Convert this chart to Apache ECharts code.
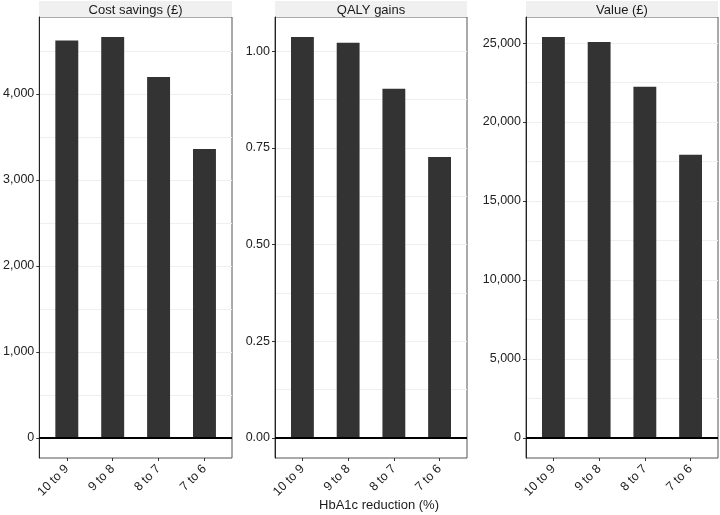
<!DOCTYPE html>
<html>
<head>
<meta charset="utf-8">
<script src="https://cdn.jsdelivr.net/npm/echarts@6/dist/echarts.min.js"></script>
<style>
  html, body { margin: 0; padding: 0; background: #fff; }
  #chart { width: 720px; height: 515px; }
</style>
</head>
<body>
<div id="chart"></div>
<script>
// values (HbA1c reduction bands)
const categories = ["10 to 9", "9 to 8", "8 to 7", "7 to 6"];
const costSavings = [4620, 4660, 4195, 3360];
const qalyGains = [1.037, 1.022, 0.903, 0.727];
const valueGbp = [25380, 25060, 22230, 17930];

const costTicks = [0, 1000, 2000, 3000, 4000];
const qalyTicks = [0, 0.25, 0.5, 0.75, 1.0];
const valueTicks = [0, 5000, 10000, 15000, 20000, 25000];

const panelTitles = ["Cost savings (£)", "QALY gains", "Value (£)"];
const xTitle = "HbA1c reduction (%)";

const FONT = "Liberation Sans, Arial, sans-serif";
const thousands = (v) => v.toLocaleString("en-US");

const panels = [
  { title: panelTitles[0], values: costSavings, ticks: costTicks, fmt: thousands },
  { title: panelTitles[1], values: qalyGains, ticks: qalyTicks, fmt: (v) => v.toFixed(2) },
  { title: panelTitles[2], values: valueGbp, ticks: valueTicks, fmt: thousands },
];

// panel boxes in pixels: [left, right]
const boxes = [[39, 232], [275, 467], [526, 718]];
const TOP = 17, BOTTOM = 458;

// faint grid lines at major ticks and halfway between them
function gridValues(ticks) {
  const step = ticks[1] - ticks[0];
  const out = [];
  ticks.forEach((t) => { out.push(t, t + step / 2); });
  return out;
}

const grid = [], xAxis = [], yAxis = [], series = [], graphic = [];

panels.forEach((p, i) => {
  const [l, r] = boxes[i];
  const maxV = Math.max(...p.values);
  const pad = maxV * 0.05;
  const yMin = -pad, yMax = maxV + pad;

  grid.push({
    left: l, right: 720 - r, top: TOP, bottom: 515 - BOTTOM,
    show: true, borderColor: "#555", borderWidth: 1, backgroundColor: "transparent",
  });

  xAxis.push({
    type: "value", gridIndex: i, min: 0.4, max: categories.length + 0.6,
    position: "bottom",
    axisLine: { show: false, onZero: false },
    splitLine: { show: false },
    axisTick: { show: true, length: 3, lineStyle: { color: "#333" },
      customValues: categories.map((c, k) => k + 1) },
    axisLabel: {
      customValues: categories.map((c, k) => k + 1),
      formatter: (v) => categories[Math.round(v) - 1] || "",
      rotate: 45, margin: 9, fontSize: 12.5, color: "#222", fontFamily: FONT,
    },
  });

  // labelled axis
  yAxis.push({
    type: "value", gridIndex: i, min: yMin, max: yMax, position: "left",
    axisLine: { show: true, onZero: false, lineStyle: { color: "#222", width: 1 } },
    splitLine: { show: false },
    axisTick: { show: true, length: 3, lineStyle: { color: "#333" }, customValues: p.ticks },
    axisLabel: { customValues: p.ticks, formatter: p.fmt, margin: 5,
      fontSize: 12.5, color: "#222", fontFamily: FONT },
  });
  // grid-only axis
  yAxis.push({
    type: "value", gridIndex: i, min: yMin, max: yMax, position: "left",
    axisLine: { show: false },
    axisLabel: { show: false },
    axisTick: { show: false, customValues: gridValues(p.ticks) },
    splitLine: { show: true, lineStyle: { color: "#efefef", width: 1 } },
  });

  series.push({
    type: "bar", xAxisIndex: i, yAxisIndex: 2 * i,
    data: p.values.map((v, k) => [k + 1, v]),
    barWidth: "50%",
    itemStyle: { color: "#333333" },
    markLine: {
      silent: true, symbol: ["none", "none"], animation: false,
      label: { show: false },
      lineStyle: { color: "#000", width: 2, type: "solid" },
      data: [{ yAxis: 0 }],
    },
  });

  graphic.push({
    type: "rect", left: l, top: 1,
    shape: { width: r - l, height: TOP - 1 },
    style: { fill: "#f0f0f0" }, silent: true,
  });
  graphic.push({
    type: "text", x: (l + r) / 2, y: 10.5,
    style: { text: p.title, textAlign: "center", textVerticalAlign: "middle",
      fontSize: 13, fill: "#1a1a1a", fontFamily: FONT },
  });
});

graphic.push({
  type: "text", x: 379, y: 505,
  style: { text: xTitle, textAlign: "center", textVerticalAlign: "middle",
    fontSize: 13, fill: "#1a1a1a", fontFamily: FONT },
});

const chart = echarts.init(document.getElementById("chart"), null, { renderer: "canvas" });
chart.setOption({
  animation: false,
  backgroundColor: "#fff",
  grid, xAxis, yAxis, series, graphic,
});
</script>
</body>
</html>
